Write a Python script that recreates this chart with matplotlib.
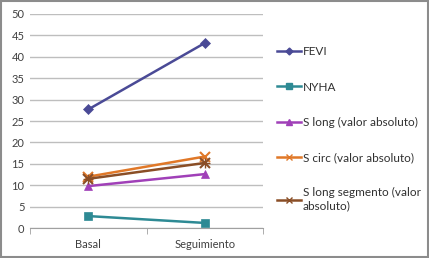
import matplotlib
matplotlib.use("Agg")
import matplotlib.pyplot as plt
from matplotlib.lines import Line2D

plt.rcParams['font.family'] = ['Lato', 'DejaVu Sans']

categories = ['Basal', 'Seguimiento']
fevi = [27.7, 43.2]
nyha = [2.8, 1.2]
s_long = [9.8, 12.6]
s_circ = [12.0, 16.7]
s_long_seg = [11.5, 15.2]

labels = ['FEVI', 'NYHA', 'S long (valor absoluto)', 'S circ (valor absoluto)',
          'S long segmento (valor\nabsoluto)']
colors = ['#4A4A96', '#2E8A94', '#A040B8', '#E07828', '#8A4E26']
markers = ['D', 's', '^', 'x', 'x']
sizes = [5, 6, 6, 7, 7]

fig = plt.figure(figsize=(4.29, 2.58), dpi=100)
ax = fig.add_axes([0.07, 0.116, 0.543, 0.83])

x = range(len(categories))
series = [fevi, nyha, s_long, s_circ, s_long_seg]
for vals, lab, c, m, s in zip(series, labels, colors, markers, sizes):
    ax.plot(x, vals, color=c, marker=m, markersize=s, linewidth=1.8,
            markeredgewidth=1.5 if m == 'x' else 0.5, label=lab)
# extra star-like marker for the segmento series
ax.plot(x, s_long_seg, color=colors[4], marker='+', markersize=7,
        linestyle='none', markeredgewidth=1)

ax.set_xlim(-0.5, 1.5)
ax.set_ylim(0, 50)
ax.set_yticks(range(0, 51, 5))
ax.set_xticks(list(x))
ax.set_xticklabels(categories)
ax.set_xticks([-0.5, 0.5, 1.5], minor=True)
ax.tick_params(axis='x', which='major', length=0, pad=8)
ax.tick_params(axis='x', which='minor', length=4, color='#A0A0A0')
ax.tick_params(axis='y', length=0, pad=4)
ax.tick_params(labelsize=8, labelcolor='#404040')
ax.yaxis.grid(True, color='#BEBEBE', linewidth=1)
ax.set_axisbelow(True)
for side in ['top', 'right']:
    ax.spines[side].set_visible(False)
ax.spines['left'].set_visible(False)
ax.spines['bottom'].set_color('#A0A0A0')

handles = []
for lab, c, m, s in zip(labels, colors, markers, sizes):
    handles.append(Line2D([], [], color=c, marker=m, markersize=s * 0.7,
                          linewidth=1.8, markeredgewidth=1))
fig.legend(handles, labels, loc='upper left', bbox_to_anchor=(0.632, 0.843),
           frameon=False, fontsize=8.5, labelspacing=2.05, handlelength=2.0,
           handletextpad=0.2, labelcolor='#303030', borderpad=0)

# figure border
fig.patches.append(plt.Rectangle((0.002, 0.003), 0.995, 0.993, transform=fig.transFigure,
                                 fill=False, edgecolor='#8C8C8C', linewidth=1.5))

fig.savefig('out.png', dpi=100)
